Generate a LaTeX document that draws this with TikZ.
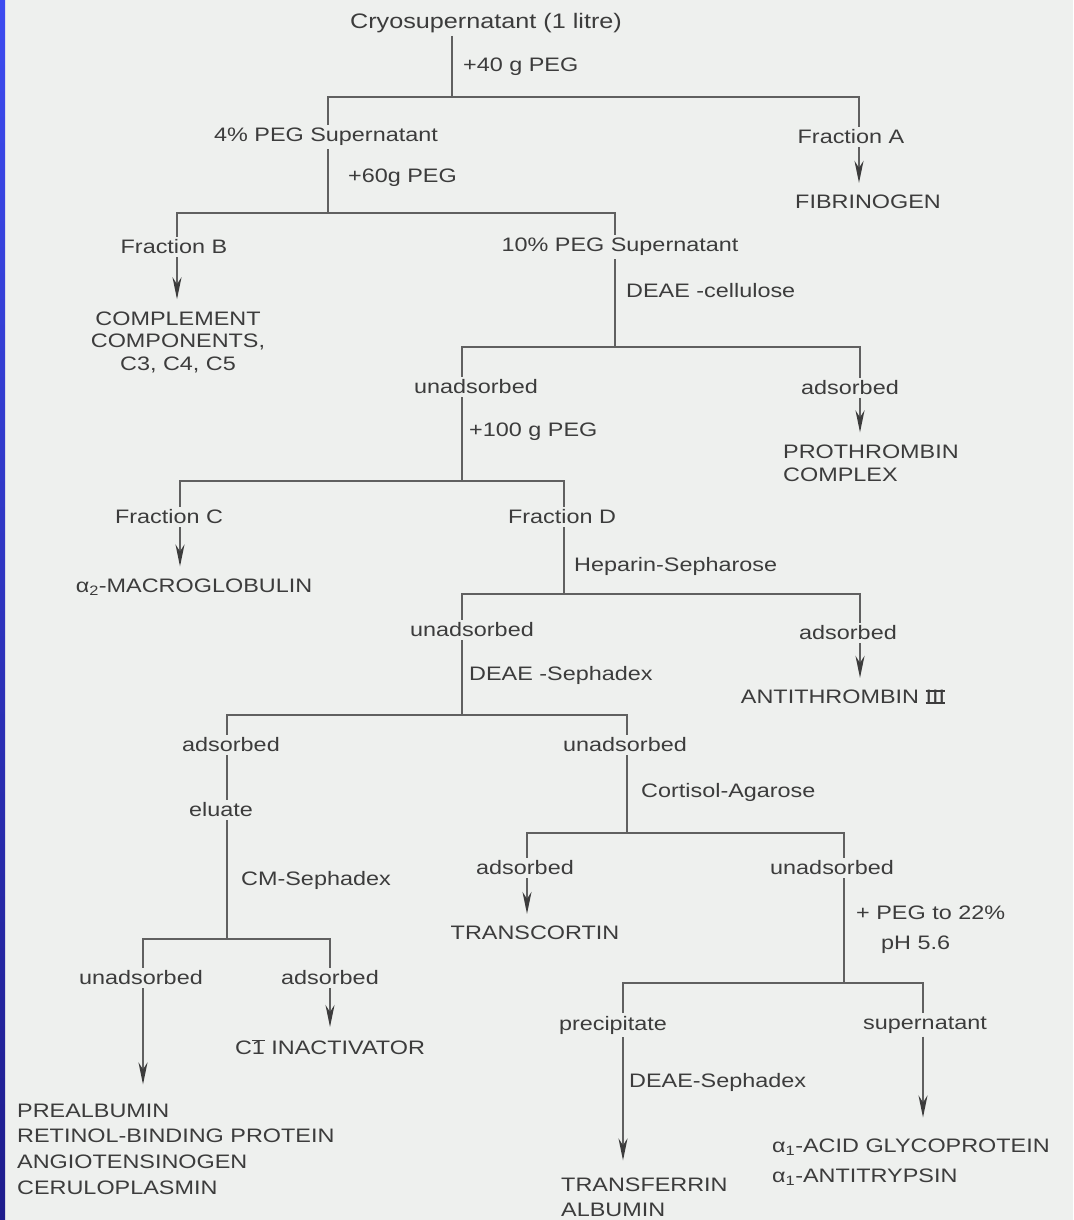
\documentclass[tikz,border=0pt]{standalone}
\usepackage{fontspec}
\setmainfont{Liberation Sans}[FakeStretch=1.2]
\usetikzlibrary{arrows.meta}

\definecolor{paper}{HTML}{EEF0EE}
\definecolor{ink}{HTML}{3C3C3C}
\definecolor{rule}{HTML}{606060}

% label fonts
\newcommand{\lbfont}{\fontsize{19.5}{23}\selectfont}
\newcommand{\topfont}{\fontsize{21}{25}\selectfont}
% roman three with bars top and bottom
\newcommand{\barthree}{\begingroup\setbox0\hbox{III}%
  \rlap{\rule{\wd0}{0.07em}}%
  \rlap{\raisebox{\dimexpr\ht0-0.07em\relax}{\rule{\wd0}{0.07em}}}%
  \box0\endgroup}
\newcommand{\cone}{C$\overline{\mbox{1}}$}

\tikzset{
  lbl/.style={text=ink, font=\lbfont, inner sep=3pt},
  side/.style={lbl, anchor=west},
  prod/.style={lbl, align=left},
  tree/.style={draw=rule, line width=2pt},
  arr/.style={tree, -{Stealth[length=22pt, width=9pt, inset=7pt, color=ink]}, shorten >=9pt},
}

\begin{document}
\begin{tikzpicture}[x=1pt, y=-1pt]
% paper and binding edge
\fill[paper] (0,0) rectangle (1073,1220);
\shade[top color={rgb,255:red,60;green,75;blue,240}, middle color={rgb,255:red,85;green,105;blue,225}, bottom color={rgb,255:red,30;green,28;blue,140}] (0,0) rectangle (5,1220);
\useasboundingbox (0,0) rectangle (1073,1220);

% ---------- labels ----------
\node[lbl, font=\topfont] (cryo) at (486,23) {Cryosupernatant (1 litre)};
\node[side] (p40) at (460,67) {+40 g PEG};
\node[lbl] (sup4) at (326,137) {4\% PEG Supernatant};
\node[lbl] (fracA) at (851,137) {Fraction A};
\node[lbl] (fib) at (868,202) {FIBRINOGEN};
\node[side] (p60) at (345,178) {+60g PEG};
\node[lbl] (fracB) at (174,247) {Fraction B};
\node[lbl, align=center, font=\fontsize{19.5}{22.5}\selectfont] (comp) at (178,342) {COMPLEMENT\\COMPONENTS,\\C3, C4, C5};
\node[lbl] (sup10) at (620,247) {10\% PEG Supernatant};
\node[side] (deae1) at (623,291) {DEAE -cellulose};
\node[lbl] (ads1) at (850,388) {adsorbed};
\node[prod, anchor=west] (proth) at (780,463) {PROTHROMBIN\\COMPLEX};
\node[lbl] (unads1) at (476,387) {unadsorbed};
\node[side] (p100) at (466,432) {+100 g PEG};
\node[lbl] (fracC) at (169,517) {Fraction C};
\node[lbl] (macro) at (194,587) {α\textsubscript{2}-MACROGLOBULIN};
\node[lbl] (fracD) at (562,517) {Fraction D};
\node[side] (hep) at (571,566) {Heparin-Sepharose};
\node[lbl] (ads2) at (848,633) {adsorbed};
\node[lbl] (anti) at (843,697) {ANTITHROMBIN \barthree};
\node[lbl] (unads2) at (472,630) {unadsorbed};
\node[side] (deae2) at (466,675) {DEAE -Sephadex};
\node[lbl] (ads3) at (231,745) {adsorbed};
\node[lbl] (eluate) at (221,810) {eluate};
\node[side] (cm) at (238,880) {CM-Sephadex};
\node[lbl] (unads3) at (141,978) {unadsorbed};
\node[prod, anchor=west, font=\fontsize{19.5}{25.7}\selectfont] (pre) at (14,1149) {PREALBUMIN\\RETINOL-BINDING PROTEIN\\ANGIOTENSINOGEN\\CERULOPLASMIN};
\node[lbl] (ads4) at (330,978) {adsorbed};
\node[lbl] (c1) at (330,1047) {\cone{} INACTIVATOR};
\node[lbl] (unads4) at (625,745) {unadsorbed};
\node[side] (cort) at (638,792) {Cortisol-Agarose};
\node[lbl] (ads5) at (525,868) {adsorbed};
\node[lbl] (trans) at (535,933) {TRANSCORTIN};
\node[lbl] (unads5) at (832,868) {unadsorbed};
\node[side] (peg22) at (853,913) {+ PEG to 22\%};
\node[side] (ph) at (878,945) {pH 5.6};
\node[lbl] (precip) at (613,1025) {precipitate};
\node[side] (deae3) at (626,1082) {DEAE-Sephadex};
\node[prod, anchor=west, font=\fontsize{19.5}{25}\selectfont] (transf) at (558,1197) {TRANSFERRIN\\ALBUMIN};
\node[lbl] (supn) at (925,1025) {supernatant};
\node[prod, anchor=west, font=\fontsize{19.5}{30}\selectfont] (acid) at (769,1162) {α\textsubscript{1}-ACID GLYCOPROTEIN\\α\textsubscript{1}-ANTITRYPSIN};

% ---------- branch points ----------
\coordinate (s1) at (452,97);  \coordinate (s1l) at (328,97);  \coordinate (s1r) at (859,97);
\coordinate (s2) at (328,213); \coordinate (s2l) at (177,213); \coordinate (s2r) at (615,213);
\coordinate (s3) at (615,347); \coordinate (s3l) at (462,347); \coordinate (s3r) at (860,347);
\coordinate (s4) at (462,481); \coordinate (s4l) at (180,481); \coordinate (s4r) at (564,481);
\coordinate (s5) at (564,594); \coordinate (s5l) at (462,594); \coordinate (s5r) at (860,594);
\coordinate (s6) at (462,715); \coordinate (s6l) at (227,715); \coordinate (s6r) at (627,715);
\coordinate (s7) at (227,939); \coordinate (s7l) at (143,939); \coordinate (s7r) at (330,939);
\coordinate (s8) at (627,833); \coordinate (s8l) at (527,833); \coordinate (s8r) at (844,833);
\coordinate (s9) at (844,983); \coordinate (s9l) at (623,983); \coordinate (s9r) at (923,983);

% ---------- connectors ----------
\draw[tree] (cryo.south -| s1) -- (s1);
\draw[tree] (sup4.north -| s1l) |- (s1r) -- (fracA.north -| s1r);
\draw[arr] (fracA.south -| s1r) -- (fib.north -| s1r);

\draw[tree] (sup4.south -| s1l) -- (s2);
\draw[tree] (fracB.north -| s2l) |- (s2r) -- (sup10.north -| s2r);
\draw[arr] (fracB.south -| s2l) -- (comp.north -| s2l);

\draw[tree] (sup10.south -| s2r) -- (s3);
\draw[tree] (unads1.north -| s3l) |- (s3r) -- (ads1.north -| s3r);
\draw[arr] (ads1.south -| s3r) -- (proth.north -| s3r);

\draw[tree] (unads1.south -| s3l) -- (s4);
\draw[tree] (fracC.north -| s4l) |- (s4r) -- (fracD.north -| s4r);
\draw[arr] (fracC.south -| s4l) -- (macro.north -| s4l);

\draw[tree] (fracD.south -| s4r) -- (s5);
\draw[tree] (unads2.north -| s5l) |- (s5r) -- (ads2.north -| s5r);
\draw[arr] (ads2.south -| s5r) -- (anti.north -| s5r);

\draw[tree] (unads2.south -| s5l) -- (s6);
\draw[tree] (ads3.north -| s6l) |- (s6r) -- (unads4.north -| s6r);
\draw[tree] (ads3.south -| s6l) -- (eluate.north -| s6l);

\draw[tree] (eluate.south -| s6l) -- (s7);
\draw[tree] (unads3.north -| s7l) |- (s7r) -- (ads4.north -| s7r);
\draw[arr, shorten >=16pt] (unads3.south -| s7l) -- (pre.north -| s7l);
\draw[arr] (ads4.south -| s7r) -- (c1.north -| s7r);

\draw[tree] (unads4.south -| s6r) -- (s8);
\draw[tree] (ads5.north -| s8l) |- (s8r) -- (unads5.north -| s8r);
\draw[arr] (ads5.south -| s8l) -- (trans.north -| s8l);

\draw[tree] (unads5.south -| s8r) -- (s9);
\draw[tree] (precip.north -| s9l) |- (s9r) -- (supn.north -| s9r);
\draw[arr, shorten >=14pt] (precip.south -| s9l) -- (transf.north -| s9l);
\draw[arr, shorten >=18pt] (supn.south -| s9r) -- (acid.north -| s9r);
\end{tikzpicture}
\end{document}
